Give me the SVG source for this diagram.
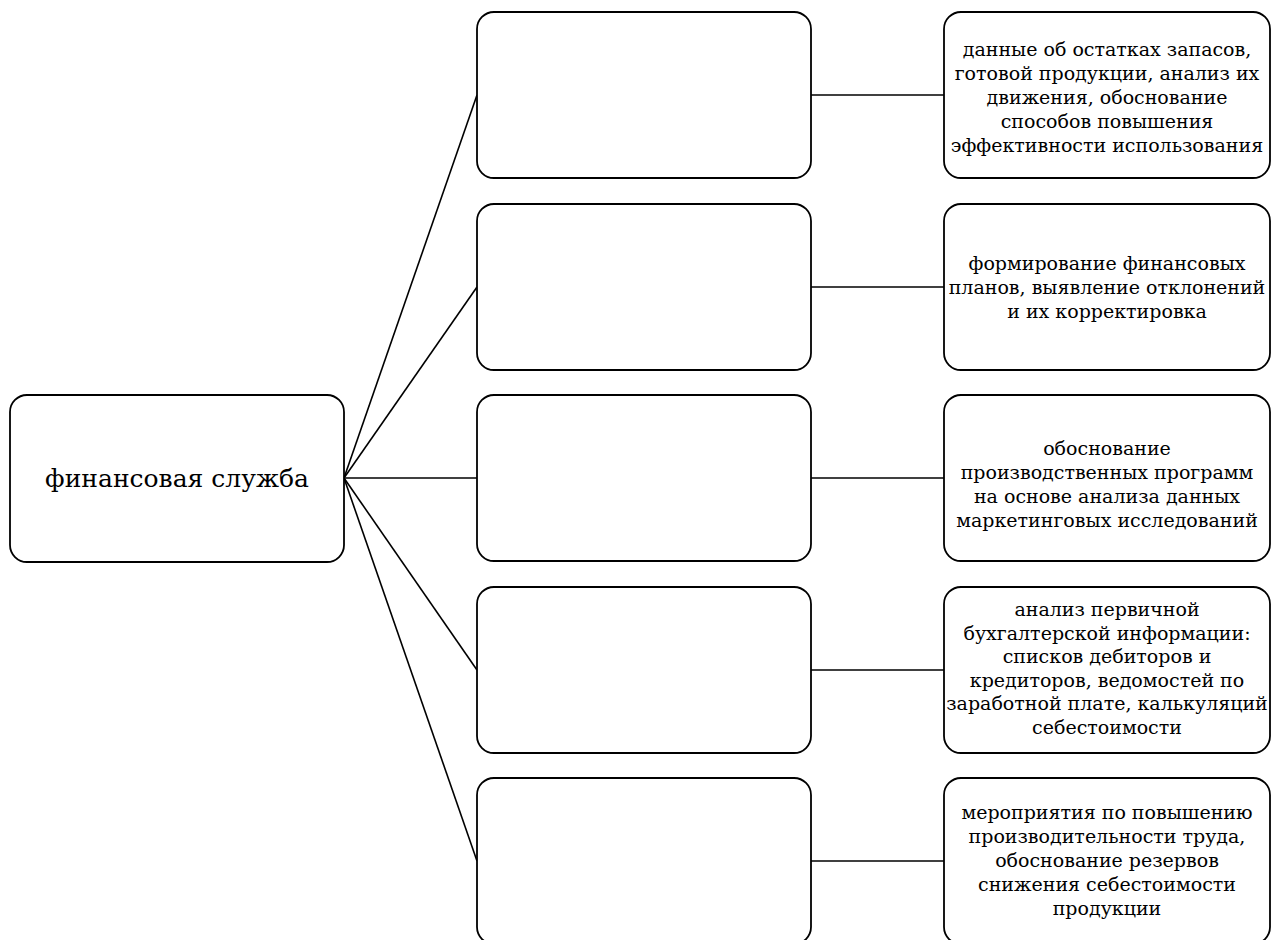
<svg xmlns="http://www.w3.org/2000/svg" width="1271" height="940" viewBox="0 0 1271 940">
<style>
.box{fill:#fff;stroke:#000;stroke-width:1.8}
.ln{stroke:#000;stroke-width:1.6;fill:none}
text{font-family:'DejaVu Serif','Liberation Serif',serif;font-size:19px;text-anchor:middle;fill:#000}
.big{font-size:25px}
</style>
<rect width="1271" height="940" fill="#fff"/>
<g id="connectors">
<line class="ln" x1="344" y1="478" x2="477" y2="95"/>
<line class="ln" x1="344" y1="478" x2="477" y2="287"/>
<line class="ln" x1="344" y1="478" x2="477" y2="478"/>
<line class="ln" x1="344" y1="478" x2="477" y2="670"/>
<line class="ln" x1="344" y1="478" x2="477" y2="861"/>
<line class="ln" x1="811" y1="95" x2="944" y2="95"/>
<line class="ln" x1="811" y1="287" x2="944" y2="287"/>
<line class="ln" x1="811" y1="478" x2="944" y2="478"/>
<line class="ln" x1="811" y1="670" x2="944" y2="670"/>
<line class="ln" x1="811" y1="861" x2="944" y2="861"/>
</g>
<g id="root">
<rect class="box" x="10" y="395" width="334" height="167" rx="17"/>
<text class="big" x="177" y="487">финансовая служба</text>
</g>
<g id="m1"><rect class="box" x="477" y="12" width="334" height="166" rx="17"/></g>
<g id="m2"><rect class="box" x="477" y="204" width="334" height="166" rx="17"/></g>
<g id="m3"><rect class="box" x="477" y="395" width="334" height="166" rx="17"/></g>
<g id="m4"><rect class="box" x="477" y="587" width="334" height="166" rx="17"/></g>
<g id="m5"><rect class="box" x="477" y="778" width="334" height="166" rx="17"/></g>
<g id="r1">
<rect class="box" x="944" y="12" width="326" height="166" rx="17"/>
<text x="1107"><tspan x="1107" y="56">данные об остатках запасов,</tspan><tspan x="1107" y="80">готовой продукции, анализ их</tspan><tspan x="1107" y="104">движения, обоснование</tspan><tspan x="1107" y="128">способов повышения</tspan><tspan x="1107" y="152">эффективности использования</tspan></text>
</g>
<g id="r2">
<rect class="box" x="944" y="204" width="326" height="166" rx="17"/>
<text x="1107"><tspan x="1107" y="270">формирование финансовых</tspan><tspan x="1107" y="294">планов, выявление отклонений</tspan><tspan x="1107" y="318">и их корректировка</tspan></text>
</g>
<g id="r3">
<rect class="box" x="944" y="395" width="326" height="166" rx="17"/>
<text x="1107"><tspan x="1107" y="455">обоснование</tspan><tspan x="1107" y="479">производственных программ</tspan><tspan x="1107" y="503">на основе анализа данных</tspan><tspan x="1107" y="527">маркетинговых исследований</tspan></text>
</g>
<g id="r4">
<rect class="box" x="944" y="587" width="326" height="166" rx="17"/>
<text x="1107"><tspan x="1107" y="616">анализ первичной</tspan><tspan x="1107" y="639.5">бухгалтерской информации:</tspan><tspan x="1107" y="663">списков дебиторов и</tspan><tspan x="1107" y="686.5">кредиторов, ведомостей по</tspan><tspan x="1107" y="710">заработной плате, калькуляций</tspan><tspan x="1107" y="733.5">себестоимости</tspan></text>
</g>
<g id="r5">
<rect class="box" x="944" y="778" width="326" height="166" rx="17"/>
<text x="1107"><tspan x="1107" y="819">мероприятия по повышению</tspan><tspan x="1107" y="843">производительности труда,</tspan><tspan x="1107" y="867">обоснование резервов</tspan><tspan x="1107" y="891">снижения себестоимости</tspan><tspan x="1107" y="915">продукции</tspan></text>
</g>
</svg>
